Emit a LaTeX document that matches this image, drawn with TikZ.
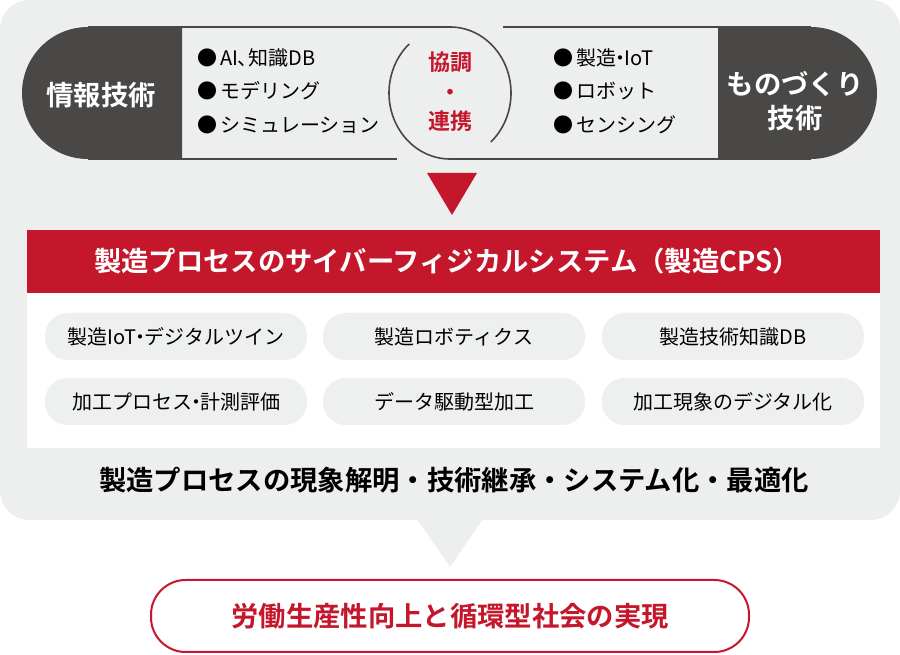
\documentclass[tikz,border=0pt]{standalone}
\usepackage{fontspec}
\setmainfont{Noto Sans CJK JP}[BoldFont={Noto Sans CJK JP Bold}]
\usetikzlibrary{calc, positioning}

\definecolor{cpsred}{HTML}{C4172C}
\definecolor{darkgray}{HTML}{4A4846}
\definecolor{bggray}{HTML}{EDEEEE}
\definecolor{pillgray}{HTML}{EEEFEF}

\newcommand{\tdot}{\kern-.3em・\kern-.3em}

\tikzset{
 darklabel/.style={text=white, font=\bfseries\fontsize{20.5}{25}\selectfont, align=center, inner sep=0pt},
 item/.style={anchor=west, font=\fontsize{15}{18}\selectfont, inner sep=0pt},
 pill/.style={fill=pillgray, rounded corners=17pt, minimum width=196.5pt, minimum height=35.25pt,
  font=\fontsize{15}{18}\selectfont, inner sep=0pt},
}

\begin{document}
\begin{tikzpicture}[x=0.75pt, y=-0.75pt]
 \useasboundingbox (0,0) rectangle (900,655);
 % 背景
 \fill[bggray, rounded corners=22pt] (0,0) rectangle (900,520);
 \fill[bggray] (417,519) -- (483,519) -- (450,567) -- cycle;

 % 上段：情報技術とものづくり技術
 \fill[darkgray] (182,27) -- (88,27) arc[start angle=90, end angle=270, radius=49.5pt] -- (182,159) -- cycle;
 \fill[darkgray] (718,27) -- (811,27) arc[start angle=90, end angle=-90, radius=49.5pt] -- (718,159) -- cycle;
 \begin{scope}[darkgray, line width=1.2pt]
  \draw (88,27) -- (450,27) arc[start angle=90, end angle=-48, x radius=45.75pt, y radius=49.5pt];
  \draw (88,159) -- (397,159);
  \draw (811,159) -- (450,159) arc[start angle=270, end angle=132, x radius=45.75pt, y radius=49.5pt];
  \draw (503,27) -- (811,27);
 \end{scope}

 \node[darklabel] (info) at (101,95) {情報技術};
 \node[darklabel] (mono) at (795,101) {ものづくり\\技術};
 \node[item] (ai)   at (197,58)  {●\,AI\kern-.05em、\kern-.45em知識DB};
 \node[item] (model) at (197,91) {●\,モデリング};
 \node[item] (sim)  at (197,125) {●\,シミュレーション};
 \node[item] (iot)  at (553,58)  {●\,製造\tdot IoT};
 \node[item] (robot) at (553,91) {●\,ロボット};
 \node[item] (sens) at (553,125) {●\,センシング};
 \node[text=cpsred, font=\bfseries\fontsize{16.5}{22}\selectfont, align=center, inner sep=0pt]
  (kyocho) at (450,92) {協調\\・\\連携};

 \fill[cpsred] (427,173) -- (477,173) -- (452,215) -- cycle;

 % 製造CPS
 \fill[cpsred] (27,230) rectangle (880,293);
 \fill[white] (27,293) rectangle (880,448);
 \node[text=white, font=\bfseries\fontsize{20.5}{24}\selectfont, inner sep=0pt]
  (cps) at (447,261) {製造プロセスのサイバーフィジカルシステム（製造CPS）};

 \node[pill] (p1) at (176,336.5) {製造IoT\tdot デジタルツイン};
 \node[pill] (p2) at (454,336.5) {製造ロボティクス};
 \node[pill] (p3) at (733,336.5) {製造技術知識DB};
 \node[pill] (p4) at (176,401.5) {加工プロセス\tdot 計測評価};
 \node[pill] (p5) at (454,401.5) {データ駆動型加工};
 \node[pill] (p6) at (733,401.5) {加工現象のデジタル化};

 \node[font=\bfseries\fontsize{20.5}{24}\selectfont, inner sep=0pt]
  (result) at (454,480) {製造プロセスの現象解明・技術継承・システム化・最適化};

 % 目標
 \node[draw=cpsred, line width=1.5pt, fill=white, rounded corners=26pt,
  minimum width=448.5pt, minimum height=54pt, text=cpsred,
  font=\bfseries\fontsize{20.5}{24}\selectfont] (goal) at (450,616) {労働生産性向上と循環型社会の実現};
\end{tikzpicture}
\end{document}
